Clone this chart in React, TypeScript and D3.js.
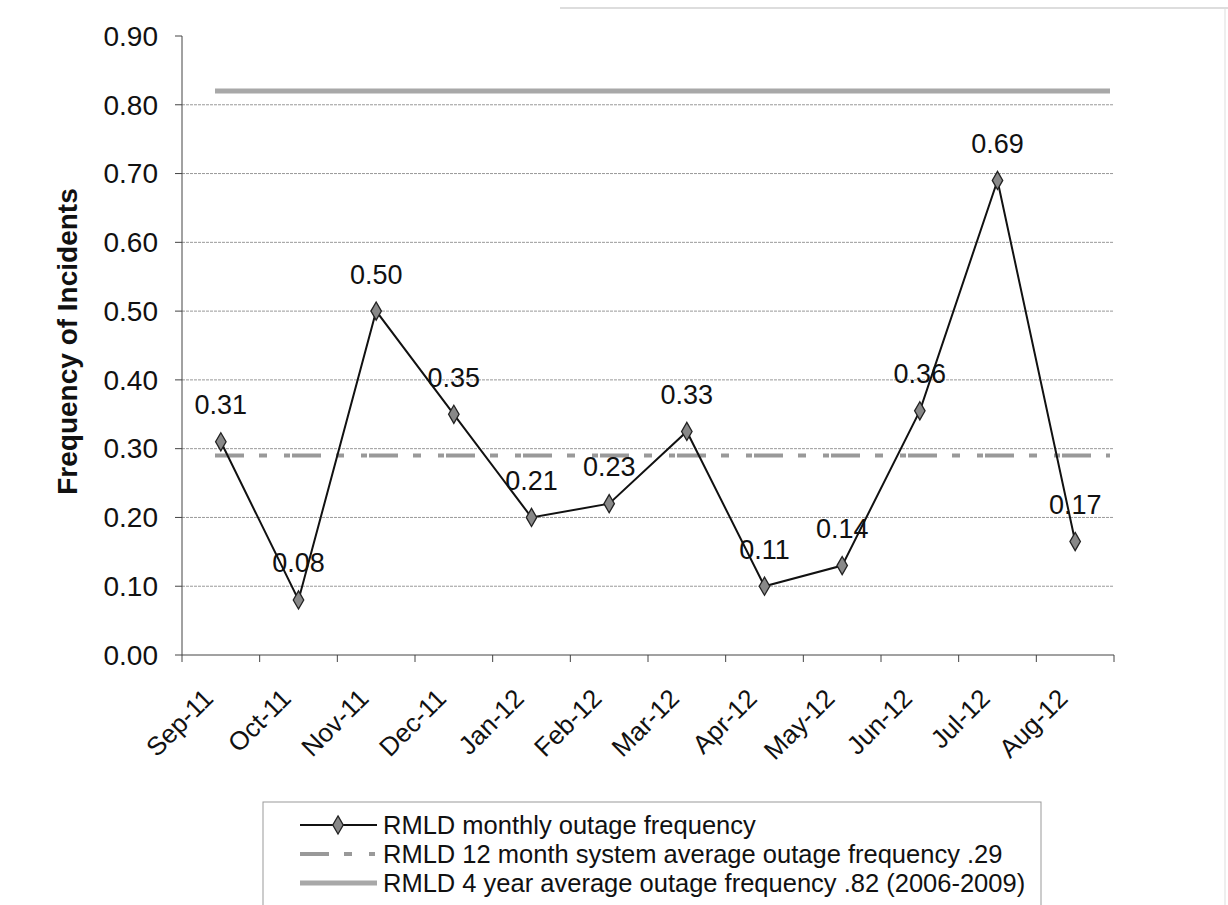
import React from "react";
import * as d3 from "d3";

const months = ["Sep-11","Oct-11","Nov-11","Dec-11","Jan-12","Feb-12","Mar-12","Apr-12","May-12","Jun-12","Jul-12","Aug-12"];
const monthlyValues = [0.31,0.08,0.50,0.35,0.20,0.22,0.325,0.10,0.13,0.355,0.69,0.165];
const monthlyLabels = ["0.31","0.08","0.50","0.35","0.21","0.23","0.33","0.11","0.14","0.36","0.69","0.17"];
const yTicks = [0,0.1,0.2,0.3,0.4,0.5,0.6,0.7,0.8,0.9];
const avg12 = 0.29;
const avg4y = 0.82;
const legendItems = [
  "RMLD monthly outage frequency",
  "RMLD 12 month system average outage frequency .29",
  "RMLD 4 year average outage frequency .82 (2006-2009)",
];

export default function App() {
  const W = 1228, H = 905;
  const left = 182, right = 1114, top = 36, bottom = 655;
  const x = d3.scaleBand<string>().domain(months).range([left, right]).padding(0);
  const y = d3.scaleLinear().domain([0, 0.9]).range([bottom, top]);
  const cx = (m: string) => (x(m) as number) + x.bandwidth() / 2;
  const line = d3.line<number>().x((_, i) => cx(months[i])).y((v) => y(v));
  const font = "Arial, 'Liberation Sans', sans-serif";
  const refX0 = left + 33, refX1 = right - 4;
  const diamond = d3.symbol().type(d3.symbolDiamond).size(95)() as string;
  const legX = 263, legY = 802;
  const dash12 = "29,15,8,17,6,2";
  return (
    <svg width={W} height={H} style={{ position: "absolute", left: 0, top: 0, background: "#fff" }} fontFamily={font}>
      <line x1={560} x2={W} y1={8} y2={8} stroke="#bbb" strokeWidth={1} />
      <line x1={W - 3} x2={W - 3} y1={8} y2={H} stroke="#ddd" strokeWidth={1} />
      {/* gridlines */}
      {yTicks.filter((t) => t > 0 && t < 0.9).map((t) => (
        <line key={t} x1={left} x2={right} y1={y(t)} y2={y(t)} stroke="#999" strokeWidth={1} strokeDasharray="3,1" />
      ))}
      {/* y axis */}
      <line x1={left} x2={left} y1={top} y2={bottom} stroke="#444" strokeWidth={1} />
      {yTicks.map((t) => (
        <g key={t}>
          <line x1={left - 7} x2={left} y1={y(t)} y2={y(t)} stroke="#444" />
          <text x={left - 24} y={y(t)} dy="0.35em" textAnchor="end" fontSize={28} fill="#111">{t.toFixed(2)}</text>
        </g>
      ))}
      {/* x axis */}
      <line x1={left} x2={right} y1={bottom} y2={bottom} stroke="#444" />
      {months.map((m) => (
        <line key={m} x1={x(m) as number} x2={x(m) as number} y1={bottom} y2={bottom + 7} stroke="#444" />
      ))}
      <line x1={right} x2={right} y1={bottom} y2={bottom + 7} stroke="#444" />
      {months.map((m) => (
        <text key={m} transform={`translate(${cx(m) - 6},${bottom + 45}) rotate(-45)`} textAnchor="end" fontSize={26} fill="#111">{m}</text>
      ))}
      <text transform={`translate(77,${(top + bottom) / 2 - 4}) rotate(-90)`} textAnchor="middle" fontSize={28} fontWeight="bold" fill="#111">Frequency of Incidents</text>
      {/* reference lines */}
      <line x1={refX0} x2={refX1} y1={y(avg4y)} y2={y(avg4y)} stroke="#a8a8a8" strokeWidth={5} />
      <line x1={refX0} x2={refX1} y1={y(avg12)} y2={y(avg12)} stroke="#999" strokeWidth={4} strokeDasharray={dash12} />
      {/* monthly line */}
      <path d={line(monthlyValues) as string} fill="none" stroke="#111" strokeWidth={2} />
      {monthlyValues.map((v, i) => (
        <path key={i} d={diamond} transform={`translate(${cx(months[i])},${y(v)})`} fill="#888" stroke="#222" strokeWidth={1.3} />
      ))}
      {monthlyValues.map((v, i) => (
        <text key={i} x={cx(months[i])} y={y(v) - 37} dy="0.35em" textAnchor="middle" fontSize={27} fill="#111">{monthlyLabels[i]}</text>
      ))}
      {/* legend */}
      <rect x={legX} y={legY} width={778} height={120} fill="#fff" stroke="#999" strokeWidth={1} />
      {legendItems.map((t, i) => {
        const ly = legY + 23 + i * 29;
        return (
          <g key={t}>
            {i === 0 && (
              <g>
                <line x1={300} x2={377} y1={ly} y2={ly} stroke="#111" strokeWidth={2} />
                <path d={diamond} transform={`translate(338,${ly})`} fill="#888" stroke="#222" strokeWidth={1.3} />
              </g>
            )}
            {i === 1 && <line x1={300} x2={377} y1={ly} y2={ly} stroke="#999" strokeWidth={4} strokeDasharray={dash12} />}
            {i === 2 && <line x1={300} x2={377} y1={ly} y2={ly} stroke="#a8a8a8" strokeWidth={5} />}
            <text x={383} y={ly} dy="0.35em" fontSize={25.5} fill="#111">{t}</text>
          </g>
        );
      })}
    </svg>
  );
}
